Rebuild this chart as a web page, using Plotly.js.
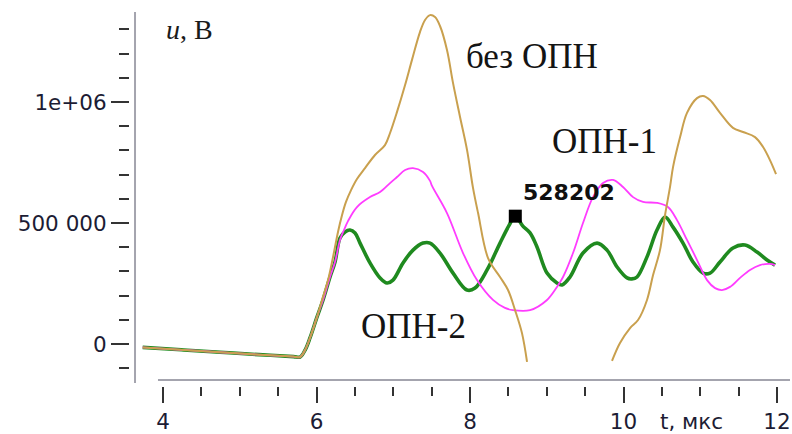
<!DOCTYPE html>
<html>
<head>
<meta charset="utf-8">
<script src="https://cdn.plot.ly/plotly-3.0.1.min.js"></script>
<style>
  html, body { margin: 0; padding: 0; background: #ffffff; }
  #chart { width: 792px; height: 434px; }
</style>
</head>
<body>
<div id="chart"></div>
<script>
// Voltage u(t) at the protected point, in volts; time in microseconds.

// Without surge arrester ("без ОПН"); null splits the curve where it leaves the view
const tNoArrester = [3.735, 4.239, 4.743, 5.248, 5.701, 5.785, 5.851, 5.915, 6.007, 6.072, 6.150, 6.215, 6.280,
  6.333, 6.384, 6.450, 6.527, 6.632, 6.762, 6.892, 6.958, 7.049, 7.154, 7.244, 7.348, 7.414, 7.479,
  7.544, 7.609, 7.700, 7.779, 7.870, 7.961, 8.039, 8.105, 8.235, 8.391, 8.495, 8.587, 8.677, 8.743,
  null,
  9.850, 9.954, 10.085, 10.189, 10.306, 10.385, 10.475, 10.541, 10.606, 10.645, 10.737, 10.827,
  10.958, 11.036, 11.127, 11.257, 11.426, 11.557, 11.713, 11.818, 11.908, 11.987];
const uNoArrester = [-14000, -24000, -34000, -44000, -52000, -54000, -25000, 25000, 112000, 182000, 264000, 359000, 463000,
  533000, 587000, 636000, 682000, 727000, 781000, 822000, 872000, 959000, 1070000, 1174000, 1289000, 1339000, 1359000,
  1351000, 1314000, 1215000, 1078000, 938000, 802000, 645000, 541000, 355000, 277000, 223000, 140000, 45000, -74000,
  null,
  -70000, 4000, 66000, 99000, 182000, 285000, 388000, 533000, 649000, 731000, 855000, 955000,
  1016000, 1025000, 1008000, 955000, 893000, 876000, 855000, 814000, 760000, 702000];

// With arrester ОПН-1
const tArrester1 = [3.735, 4.239, 4.743, 5.248, 5.701, 5.785, 5.851, 5.915, 6.007, 6.085, 6.176, 6.241, 6.306,
  6.358, 6.410, 6.527, 6.697, 6.828, 6.958, 7.049, 7.154, 7.257, 7.388, 7.479, 7.505, 7.700, 7.909,
  8.091, 8.299, 8.455, 8.560, 8.782, 9.003, 9.133, 9.212, 9.342, 9.472, 9.602, 9.733, 9.863, 9.993,
  10.124, 10.254, 10.436, 10.579, 10.697, 10.827, 10.958, 11.088, 11.193, 11.283, 11.388, 11.518,
  11.648, 11.778, 11.908, 11.974];
const uArrester1 = [-14000, -24000, -34000, -44000, -52000, -54000, -25000, 25000, 112000, 182000, 277000, 339000, 430000,
  471000, 508000, 566000, 607000, 628000, 665000, 690000, 719000, 727000, 711000, 674000, 653000, 541000, 376000,
  264000, 182000, 149000, 140000, 140000, 182000, 236000, 277000, 376000, 500000, 607000, 665000, 678000, 649000,
  607000, 587000, 583000, 566000, 512000, 430000, 347000, 264000, 231000, 223000, 236000, 273000,
  306000, 326000, 331000, 326000];

// With arrester ОПН-2
const tArrester2 = [3.735, 4.239, 4.743, 5.248, 5.701, 5.785, 5.851, 5.915, 6.007, 6.085, 6.176, 6.241, 6.306,
  6.371, 6.436, 6.502, 6.567, 6.697, 6.828, 6.919, 6.996, 7.127, 7.257, 7.388, 7.479, 7.609, 7.779,
  7.961, 8.065, 8.222, 8.391, 8.505, 8.590, 8.686, 8.782, 8.873, 9.003, 9.133, 9.199, 9.303, 9.472,
  9.655, 9.785, 9.916, 10.046, 10.108, 10.176, 10.306, 10.436, 10.541, 10.645, 10.775, 10.905,
  11.036, 11.127, 11.257, 11.426, 11.583, 11.739, 11.870, 11.974];
const uArrester2 = [-14000, -24000, -34000, -44000, -52000, -54000, -25000, 25000, 112000, 182000, 277000, 339000, 438000,
  463000, 471000, 459000, 417000, 335000, 273000, 252000, 264000, 335000, 388000, 417000, 417000, 376000, 293000,
  223000, 231000, 306000, 417000, 488000, 528202, 488000, 459000, 401000, 293000, 252000, 244000, 277000, 376000,
  417000, 388000, 318000, 273000, 269000, 277000, 360000, 471000, 525000, 483000, 417000, 339000,
  293000, 293000, 339000, 397000, 409000, 380000, 347000, 326000];

// Marked maximum of the ОПН-2 curve
const peakT = [8.59];
const peakU = [528202];

// Axis ticks
const xMajorTicks = [4, 6, 8, 10, 12];
const xMajorLabels = ['4', '6', '8', '10', '12'];
const xMinorTicks = [4.5, 5, 5.5, 6.5, 7, 7.5, 8.5, 9, 9.5, 10.5, 11, 11.5];
const yMajorTicks = [0, 500000, 1000000];
const yMajorLabels = ['0', '500 000', '1e+06'];
const yMinorTicks = [-100000, 100000, 200000, 300000, 400000, 600000, 700000, 800000, 900000,
  1100000, 1200000, 1300000];

const labelFont = 'DejaVu Sans, Verdana, sans-serif';
const serifFont = 'Liberation Serif, Times New Roman, serif';
const tickInk = '#333333';
const textInk = '#1c1c34';
const axisInk = '#a4a4ae';

const traces = [
  {
    x: tArrester2, y: uArrester2, type: 'scatter', mode: 'lines', name: 'ОПН-2',
    line: { color: '#1f8a1f', width: 3.6, shape: 'spline', smoothing: 1 },
    hoverinfo: 'skip'
  },
  {
    x: tArrester1, y: uArrester1, type: 'scatter', mode: 'lines', name: 'ОПН-1',
    line: { color: '#ff3cff', width: 1.8, shape: 'spline', smoothing: 1 },
    hoverinfo: 'skip'
  },
  {
    x: tNoArrester, y: uNoArrester, type: 'scatter', mode: 'lines', name: 'без ОПН',
    connectgaps: false,
    line: { color: '#c9a04e', width: 2, shape: 'spline', smoothing: 1 },
    hoverinfo: 'skip'
  },
  {
    x: peakT, y: peakU, type: 'scatter', mode: 'markers', name: 'max',
    marker: { symbol: 'square', size: 13, color: '#000000' },
    hoverinfo: 'skip'
  }
];

const layout = {
  width: 792,
  height: 434,
  margin: { l: 130, r: 2, t: 12, b: 48 },
  paper_bgcolor: '#ffffff',
  plot_bgcolor: '#ffffff',
  showlegend: false,
  xaxis: {
    range: [3.570, 12.169],
    showgrid: false, zeroline: false, showline: false,
    ticks: 'outside', ticklen: 16, tickwidth: 2, tickcolor: tickInk,
    tickmode: 'array', tickvals: xMajorTicks, ticktext: xMajorLabels,
    tickfont: { family: labelFont, size: 21.5, color: textInk },
    minor: { tickmode: 'array', tickvals: xMinorTicks, ticks: 'outside', ticklen: 9, tickwidth: 2, tickcolor: tickInk, showgrid: false },
    fixedrange: true
  },
  yaxis: {
    range: [-173554, 1371901],
    showgrid: false, zeroline: false, showline: false,
    ticks: 'outside', ticklen: 18, tickwidth: 2, tickcolor: tickInk,
    tickmode: 'array', tickvals: yMajorTicks, ticktext: yMajorLabels,
    tickfont: { family: labelFont, size: 21.5, color: textInk },
    minor: { tickmode: 'array', tickvals: yMinorTicks, ticks: 'outside', ticklen: 10, tickwidth: 2, tickcolor: tickInk, showgrid: false },
    fixedrange: true
  },
  shapes: [
    // vertical axis line, set slightly apart from its ticks
    { type: 'line', xref: 'paper', yref: 'paper', x0: 0.0076, x1: 0.0076, y0: 0.008, y1: 1,
      line: { color: axisInk, width: 2 }, layer: 'below' },
    // horizontal axis line
    { type: 'line', xref: 'paper', yref: 'paper', x0: 0.0424, x1: 1, y0: 0.016, y1: 0.016,
      line: { color: axisInk, width: 2 }, layer: 'below' }
  ],
  annotations: [
    { text: '<i>u</i>, В', xref: 'paper', yref: 'paper', x: 0.051, y: 0.953,
      xanchor: 'left', yanchor: 'middle', showarrow: false,
      font: { family: serifFont, size: 28, color: '#1a1a1a' } },
    { text: 't, мкс', xref: 'x', yref: 'paper', x: 10.88, y: -0.0936,
      xanchor: 'center', yanchor: 'middle', showarrow: false,
      font: { family: labelFont, size: 21.5, color: textInk } },
    { text: 'без ОПН', xref: 'x', yref: 'y', x: 8.808, y: 1188000,
      xanchor: 'center', yanchor: 'middle', showarrow: false,
      font: { family: serifFont, size: 35, color: '#141414' } },
    { text: 'ОПН-1', xref: 'x', yref: 'y', x: 9.752, y: 836800,
      xanchor: 'center', yanchor: 'middle', showarrow: false,
      font: { family: serifFont, size: 35, color: '#141414' } },
    { text: 'ОПН-2', xref: 'x', yref: 'y', x: 7.264, y: 72300,
      xanchor: 'center', yanchor: 'middle', showarrow: false,
      font: { family: serifFont, size: 35, color: '#141414' } },
    { text: '<b>' + String(peakU[0]) + '</b>', xref: 'x', yref: 'y', x: peakT[0], y: peakU[0],
      xanchor: 'left', yanchor: 'bottom', xshift: 6, yshift: 9, showarrow: false,
      font: { family: labelFont, size: 22, color: '#101010' } }
  ]
};

Plotly.newPlot('chart', traces, layout, { staticPlot: true, displayModeBar: false });
</script>
</body>
</html>
